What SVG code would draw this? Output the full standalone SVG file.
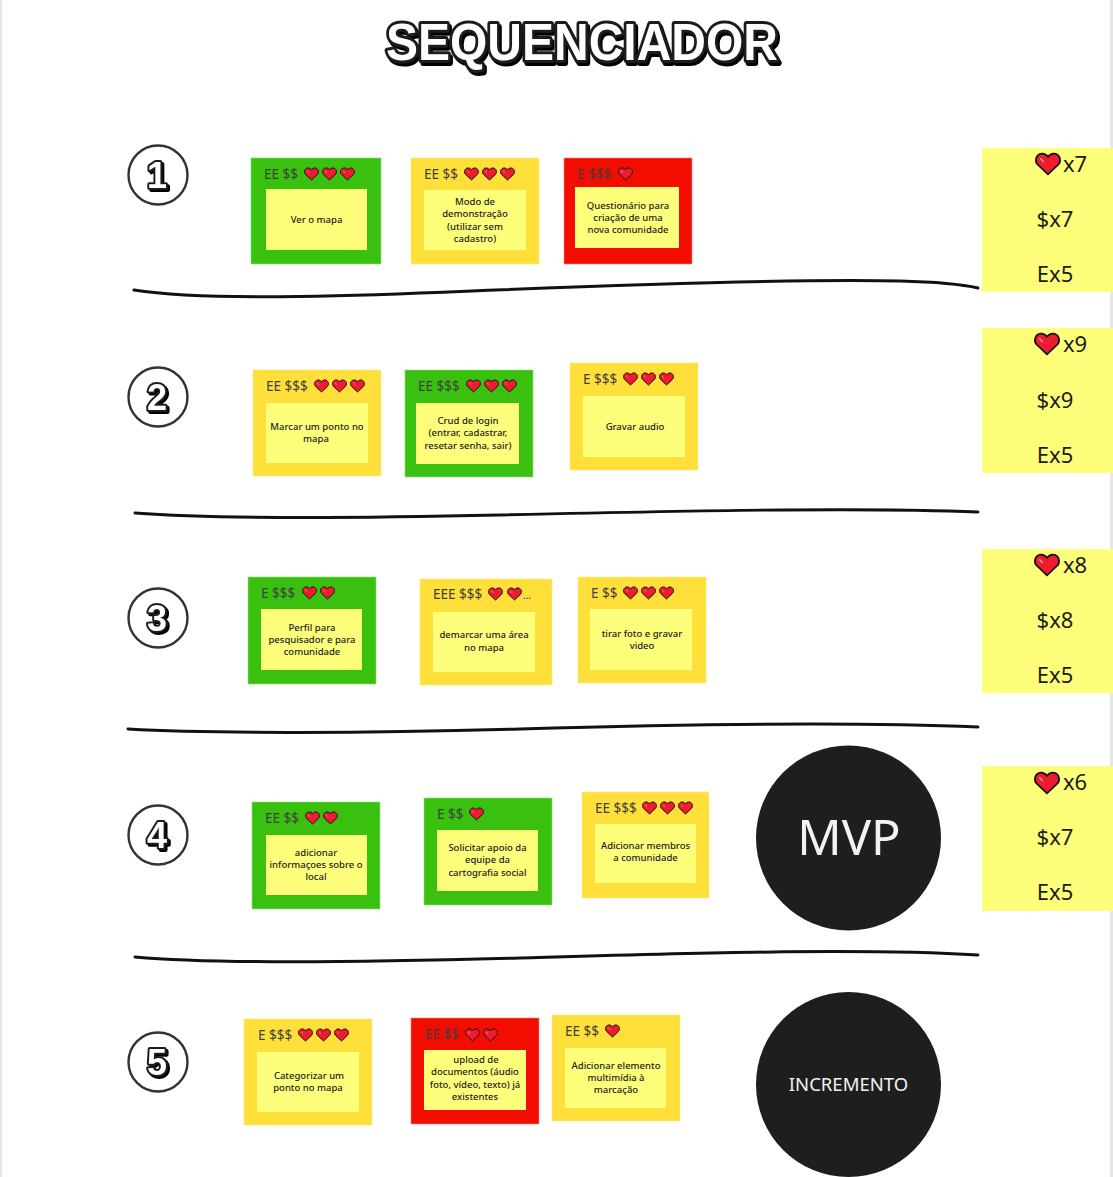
<svg xmlns="http://www.w3.org/2000/svg" width="1113" height="1177" viewBox="0 0 1113 1177">
<style>
.g{fill:#3ac10f;stroke:#8fdc7a;stroke-width:.6}
.y{fill:#ffdf3a;stroke:#ffeb8a;stroke-width:.6}
.r{fill:#f20d00;stroke:#fb8a84;stroke-width:.6}
.n{fill:#fdff7a}
.h{font:13.5px "Noto Sans","Liberation Sans",sans-serif;fill:#3f3f3f}
.t{font:500 9.5px "Noto Sans","Liberation Sans",sans-serif;fill:#222;text-anchor:middle}
.p{font:22px "Noto Sans","Liberation Sans",sans-serif;fill:#1c1c1c;text-anchor:middle}
.d{fill:none;stroke:#111;stroke-linecap:round;stroke-width:3}
.num{font:900 36px "Liberation Sans",sans-serif;fill:#fff;stroke:#1c1c1c;stroke-width:4;stroke-linejoin:round;paint-order:stroke;text-anchor:middle;filter:url(#sh)}
.ring{fill:#fff;stroke:#333;stroke-width:2.4}
.title{font:900 52px "Liberation Sans",sans-serif;fill:#fff;stroke:#1c1c1c;stroke-width:6;stroke-linejoin:round;paint-order:stroke;text-anchor:middle;filter:url(#sh2)}
</style>
<defs>
<filter id="sh" x="-30%" y="-30%" width="160%" height="160%"><feOffset in="SourceAlpha" dx="1.5" dy="1.5" result="o"/><feMerge><feMergeNode in="o"/><feMergeNode in="SourceGraphic"/></feMerge></filter>
<filter id="sh2" x="-5%" y="-20%" width="110%" height="150%"><feOffset in="SourceAlpha" dx="2" dy="3" result="o"/><feMerge><feMergeNode in="o"/><feMergeNode in="SourceGraphic"/></feMerge></filter>
<symbol id="heart" viewBox="0 0 18 16" overflow="visible"><path d="M9 15.2 1.6 8.2C-.4 5.6.8 1.2 4.6.8 6.6.6 8 1.6 9 3 10 1.6 11.4.6 13.4.8 17.2 1.2 18.4 5.6 16.4 8.2Z" fill="#ee1c2e" stroke="#111" stroke-width="1.2"/><path d="M3.6 4 6 6.600" stroke="#f99" stroke-width="1" fill="none"/></symbol>
</defs>
<rect width="1113" height="1177" fill="#fff"/>
<rect width="2" height="1177" fill="#e6e6e6"/>
<rect x="1110" width="3" height="1177" fill="#e6e6e6"/>
<text id="titulo" class="title" x="582" y="60" textLength="392" lengthAdjust="spacingAndGlyphs">SEQUENCIADOR</text>

<g id="connectors">
<path class="d" d="M134 290C190 299 300 298 420 293S800 278 900 281C940 282 965 285 978 288"/>
<path class="d" d="M135 513C200 518 320 519 500 515S860 507 978 512"/>
<path class="d" d="M128 729C200 733 350 734 520 729S860 722 978 727"/>
<path class="d" d="M135 957C200 963 340 963 520 958S860 948 978 955"/>
</g>

<g id="n1"><circle class="ring" cx="158" cy="175" r="29.500"/><text class="num" x="157" y="188">1</text></g>
<g id="n2"><circle class="ring" cx="158" cy="397" r="29.500"/><text class="num" x="157" y="410">2</text></g>
<g id="n3"><circle class="ring" cx="158" cy="618" r="29.500"/><text class="num" x="157" y="631">3</text></g>
<g id="n4"><circle class="ring" cx="158" cy="835" r="29.500"/><text class="num" x="157" y="848">4</text></g>
<g id="n5"><circle class="ring" cx="158" cy="1062" r="29.500"/><text class="num" x="157" y="1075">5</text></g>

<g id="c11"><rect class="g" x="251" y="158" width="130" height="106"/><rect class="n" x="266" y="189" width="101" height="61"/><text class="h" x="264" y="179">EE $$</text>
<use href="#heart" x="304" y="167" width="15" height="14"/><use href="#heart" x="322" y="167" width="15" height="14"/><use href="#heart" x="340" y="167" width="15" height="14"/>
<text class="t" x="316.500" y="223">Ver o mapa</text></g>

<g id="c12"><rect class="y" x="411" y="158" width="128" height="106"/><rect class="n" x="424" y="190" width="102" height="60"/><text class="h" x="424" y="179">EE $$</text>
<use href="#heart" x="464" y="167" width="15" height="14"/><use href="#heart" x="482" y="167" width="15" height="14"/><use href="#heart" x="500" y="167" width="15" height="14"/>
<text class="t" x="475" y="205">Modo de</text><text class="t" x="475" y="217">demonstração</text><text class="t" x="475" y="230">(utilizar sem</text><text class="t" x="475" y="242">cadastro)</text></g>

<g id="c13"><rect class="r" x="564" y="158" width="128" height="106"/><rect class="n" x="575" y="187" width="104" height="61"/><text class="h" x="577" y="179">E $$$</text>
<use href="#heart" x="618" y="167" width="15" height="14"/>
<text class="t" x="628" y="209">Questionário para</text><text class="t" x="628" y="221">criação de uma</text><text class="t" x="628" y="233">nova comunidade</text></g>

<g id="c21"><rect class="y" x="253" y="370" width="128" height="106"/><rect class="n" x="266" y="403" width="102" height="60"/><text class="h" x="266" y="391">EE $$$</text>
<use href="#heart" x="314" y="379" width="15" height="14"/><use href="#heart" x="332" y="379" width="15" height="14"/><use href="#heart" x="350" y="379" width="15" height="14"/>
<text class="t" x="317" y="430">Marcar um ponto no</text><text class="t" x="316" y="442">mapa</text></g>

<g id="c22"><rect class="g" x="405" y="370" width="128" height="107"/><rect class="n" x="416" y="403" width="103" height="61"/><text class="h" x="418" y="391">EE $$$</text>
<use href="#heart" x="466" y="379" width="15" height="14"/><use href="#heart" x="484" y="379" width="15" height="14"/><use href="#heart" x="502" y="379" width="15" height="14"/>
<text class="t" x="468" y="424">Crud de login</text><text class="t" x="468" y="436">(entrar, cadastrar,</text><text class="t" x="468" y="449">resetar senha, sair)</text></g>

<g id="c23"><rect class="y" x="570" y="363" width="128" height="107"/><rect class="n" x="583" y="396" width="102" height="61"/><text class="h" x="583" y="384">E $$$</text>
<use href="#heart" x="623" y="372" width="15" height="14"/><use href="#heart" x="641" y="372" width="15" height="14"/><use href="#heart" x="659" y="372" width="15" height="14"/>
<text class="t" x="635" y="430">Gravar audio</text></g>

<g id="c31"><rect class="g" x="248" y="577" width="128" height="107"/><rect class="n" x="261" y="609" width="101" height="61"/><text class="h" x="261" y="598">E $$$</text>
<use href="#heart" x="302" y="586" width="15" height="14"/><use href="#heart" x="320" y="586" width="15" height="14"/>
<text class="t" x="312" y="631">Perfil para</text><text class="t" x="312" y="643">pesquisador e para</text><text class="t" x="312" y="655">comunidade</text></g>

<g id="c32"><rect class="y" x="420" y="579" width="132" height="106"/><rect class="n" x="433" y="612" width="102" height="60"/><text class="h" x="433" y="599">EEE $$$</text>
<use href="#heart" x="488" y="587" width="15" height="14"/><use href="#heart" x="507" y="587" width="15" height="14"/><text class="h" x="523" y="599" style="font-size:10px">...</text>
<text class="t" x="484" y="638">demarcar uma área</text><text class="t" x="484" y="651">no mapa</text></g>

<g id="c33"><rect class="y" x="578" y="577" width="128" height="106"/><rect class="n" x="590" y="609" width="102" height="61"/><text class="h" x="591" y="598">E $$</text>
<use href="#heart" x="623" y="586" width="15" height="14"/><use href="#heart" x="641" y="586" width="15" height="14"/><use href="#heart" x="659" y="586" width="15" height="14"/>
<text class="t" x="642" y="637">tirar foto e gravar</text><text class="t" x="642" y="649">video</text></g>

<g id="c41"><rect class="g" x="252" y="802" width="128" height="107"/><rect class="n" x="266" y="835" width="101" height="60"/><text class="h" x="265" y="823">EE $$</text>
<use href="#heart" x="305" y="811" width="15" height="14"/><use href="#heart" x="323" y="811" width="15" height="14"/>
<text class="t" x="316" y="856">adicionar</text><text class="t" x="316" y="868">informaçoes sobre o</text><text class="t" x="316" y="880">local</text></g>

<g id="c42"><rect class="g" x="424" y="798" width="128" height="107"/><rect class="n" x="437" y="830" width="101" height="61"/><text class="h" x="437" y="819">E $$</text>
<use href="#heart" x="469" y="807" width="15" height="14"/>
<text class="t" x="487.500" y="851">Solicitar apoio da</text><text class="t" x="487.500" y="863">equipe da</text><text class="t" x="487.500" y="876">cartografia social</text></g>

<g id="c43"><rect class="y" x="582" y="792" width="127" height="106"/><rect class="n" x="595" y="824" width="101" height="59"/><text class="h" x="595" y="813">EE $$$</text>
<use href="#heart" x="642" y="801" width="15" height="14"/><use href="#heart" x="660" y="801" width="15" height="14"/><use href="#heart" x="678" y="801" width="15" height="14"/>
<text class="t" x="645.500" y="849">Adicionar membros</text><text class="t" x="645.500" y="861">a comunidade</text></g>

<g id="c51"><rect class="y" x="244" y="1019" width="128" height="106"/><rect class="n" x="257" y="1052" width="102" height="60"/><text class="h" x="258" y="1040">E $$$</text>
<use href="#heart" x="298" y="1028" width="15" height="14"/><use href="#heart" x="316" y="1028" width="15" height="14"/><use href="#heart" x="334" y="1028" width="15" height="14"/>
<text class="t" x="309" y="1079">Categorizar um</text><text class="t" x="308" y="1091">ponto no mapa</text></g>

<g id="c52"><rect class="r" x="411" y="1018" width="128" height="106"/><rect class="n" x="424" y="1050" width="102" height="60"/><text class="h" x="425" y="1039">EE $$</text>
<use href="#heart" x="465" y="1028" width="15" height="14"/><use href="#heart" x="483" y="1028" width="15" height="14"/>
<text class="t" x="476" y="1063">upload de</text><text class="t" x="475" y="1075">documentos (áudio</text><text class="t" x="475" y="1088">foto, vídeo, texto) já</text><text class="t" x="475" y="1100">existentes</text></g>

<g id="c53"><rect class="y" x="552" y="1015" width="128" height="106"/><rect class="n" x="565" y="1048" width="101" height="60"/><text class="h" x="565" y="1036">EE $$</text>
<use href="#heart" x="605" y="1024" width="15" height="14"/>
<text class="t" x="616" y="1069">Adicionar elemento</text><text class="t" x="616" y="1081">multimídia à</text><text class="t" x="616" y="1093">marcação</text></g>

<g id="mvp"><circle cx="848.500" cy="838" r="92.500" fill="#1e1e1e"/><text x="849" y="855" style="font:49px 'Noto Sans','Liberation Sans',sans-serif;fill:#f2f2f2;text-anchor:middle">MVP</text></g>
<g id="incremento"><circle cx="848.500" cy="1084.500" r="92.500" fill="#1e1e1e"/><text x="848.500" y="1090.500" style="font:18.500px 'Noto Sans','Liberation Sans',sans-serif;fill:#f2f2f2;text-anchor:middle">INCREMENTO</text></g>

<g id="p1"><rect class="n" x="982" y="148" width="131" height="144"/><use href="#heart" x="1035" y="152" width="26" height="24"/><text class="p" x="1075" y="172">x7</text><text class="p" x="1055" y="227">$x7</text><text class="p" x="1055" y="282">Ex5</text></g>
<g id="p2"><rect class="n" x="982" y="328" width="131" height="145"/><use href="#heart" x="1034" y="332" width="26" height="24"/><text class="p" x="1075" y="352">x9</text><text class="p" x="1055" y="408">$x9</text><text class="p" x="1055" y="463">Ex5</text></g>
<g id="p3"><rect class="n" x="982" y="549" width="131" height="144"/><use href="#heart" x="1034" y="553" width="26" height="24"/><text class="p" x="1075" y="573">x8</text><text class="p" x="1055" y="628">$x8</text><text class="p" x="1055" y="683">Ex5</text></g>
<g id="p4"><rect class="n" x="982" y="766" width="131" height="145"/><use href="#heart" x="1034" y="771" width="26" height="24"/><text class="p" x="1075" y="790">x6</text><text class="p" x="1055" y="845">$x7</text><text class="p" x="1055" y="900">Ex5</text></g>
</svg>
